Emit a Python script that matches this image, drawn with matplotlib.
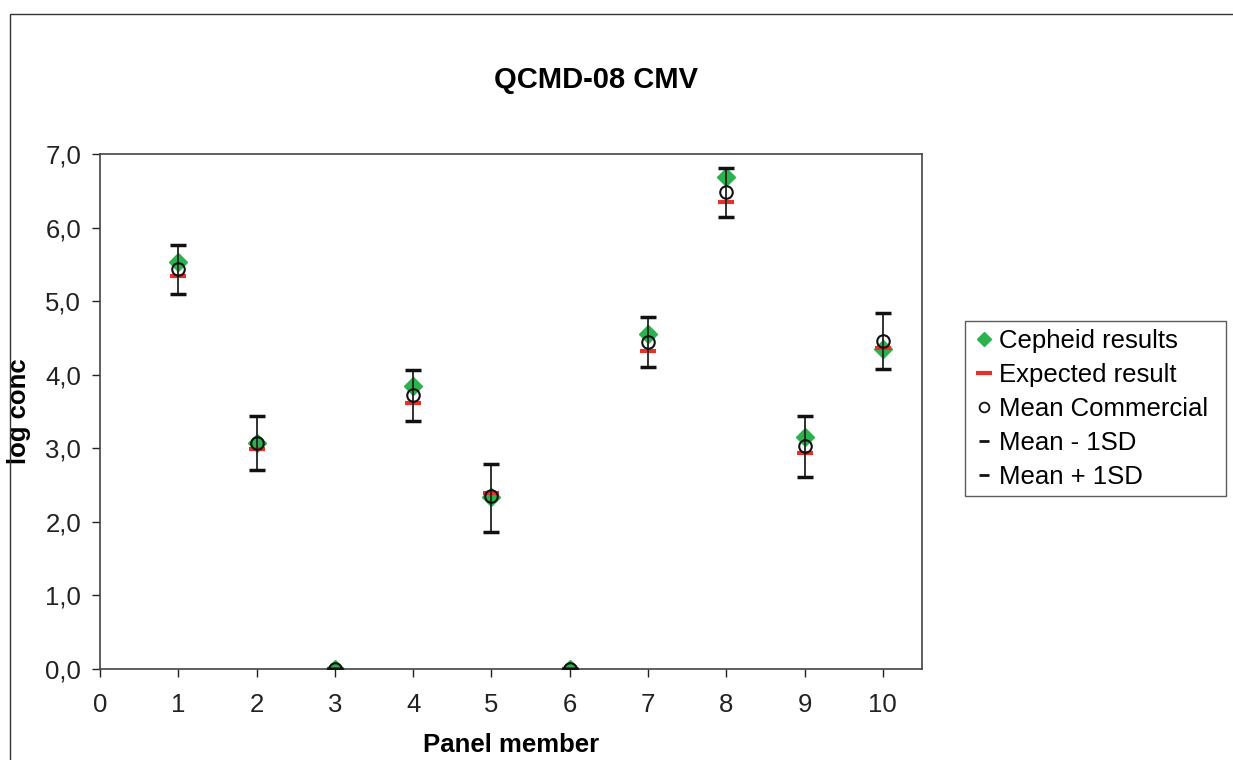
import matplotlib
matplotlib.use("Agg")
import matplotlib.pyplot as plt
from matplotlib.patches import Rectangle
from matplotlib.lines import Line2D

plt.rcParams['font.family'] = ['Liberation Sans', 'DejaVu Sans']

panel = [1, 2, 3, 4, 5, 6, 7, 8, 9, 10]
cepheid = [5.53, 3.07, 0.0, 3.85, 2.34, 0.0, 4.56, 6.69, 3.15, 4.35]
expected = [5.34, 2.99, 0.0, 3.61, 2.39, 0.0, 4.32, 6.35, 2.94, 4.36]
mean_comm = [5.44, 3.07, 0.0, 3.72, 2.35, 0.0, 4.44, 6.48, 3.03, 4.46]
mean_minus = [5.10, 2.70, 0.0, 3.37, 1.86, 0.0, 4.10, 6.15, 2.61, 4.08]
mean_plus = [5.76, 3.44, 0.0, 4.06, 2.79, 0.0, 4.78, 6.81, 3.44, 4.84]

xticks = [0, 1, 2, 3, 4, 5, 6, 7, 8, 9, 10]
yticks = [0, 1, 2, 3, 4, 5, 6, 7]
ytick_labels = ["0,0", "1,0", "2,0", "3,0", "4,0", "5,0", "6,0", "7,0"]

GREEN = "#2bb24c"
RED = "#e8302a"

W, H = 1233, 760
fig = plt.figure(figsize=(W / 100, H / 100), dpi=100)
fig.patches.append(Rectangle((10 / W, -0.1), 1.2, (1 - 14 / H) + 0.1,
                             transform=fig.transFigure, fill=False,
                             edgecolor="#333333", linewidth=1.0))

ax = fig.add_axes([100 / W, 1 - 669 / H, (922 - 100) / W, (669 - 154) / H])

ax.vlines(panel, mean_minus, mean_plus, color="#222222", linewidth=1.3, zorder=3)
ax.plot(panel, cepheid, linestyle="none", marker="D", markersize=9,
        color=GREEN, markeredgecolor=GREEN, zorder=2, label="Cepheid results")
ax.plot(panel, expected, linestyle="none", marker="_", markersize=12,
        markeredgewidth=3, color=RED, zorder=2.5, label="Expected result")
ax.plot(panel, mean_comm, linestyle="none", marker="o", markersize=9,
        markerfacecolor="none", markeredgecolor="#111111", markeredgewidth=1.5,
        zorder=4, label="Mean Commercial")
ax.plot(panel, mean_minus, linestyle="none", marker="_", markersize=11,
        markeredgewidth=2.5, color="#111111", zorder=4, label="Mean - 1SD")
ax.plot(panel, mean_plus, linestyle="none", marker="_", markersize=11,
        markeredgewidth=2.5, color="#111111", zorder=4, label="Mean + 1SD")

ax.set_xlim(0, 10.5)
ax.set_ylim(0, 7)
ax.set_xticks(xticks)
ax.set_xticklabels([str(t) for t in xticks])
ax.set_yticks(yticks)
ax.set_yticklabels(ytick_labels)
ax.tick_params(axis="both", direction="out", length=5.5, width=1, labelsize=18.5,
               colors="#222222")
ax.tick_params(axis="y", pad=8)
ax.tick_params(axis="x", pad=12)
for s in ax.spines.values():
    s.set_color("#444444")
    s.set_linewidth(1.2)

ax.set_xlabel("Panel member", fontsize=18.5, fontweight="bold")
ax.set_ylabel("log conc", fontsize=18.5, fontweight="bold")
ax.xaxis.set_label_coords(0.5, -(745 - 669) / 515.0)
ax.xaxis.label.set_va("center")
ax.yaxis.set_label_coords(-(100 - 19) / 822.0, 0.5)
ax.yaxis.label.set_va("center")

fig.text(596 / W, 1 - 80 / H, "QCMD-08 CMV", fontsize=21, fontweight="bold",
         ha="center", va="center")

handles = [
    Line2D([], [], linestyle="none", marker="D", markersize=7, color=GREEN),
    Line2D([], [], linestyle="none", marker="_", markersize=11, markeredgewidth=3, color=RED),
    Line2D([], [], linestyle="none", marker="o", markersize=7, markerfacecolor="none",
           markeredgecolor="#111111", markeredgewidth=1.3),
    Line2D([], [], linestyle="none", marker="_", markersize=7, markeredgewidth=2, color="#111111"),
    Line2D([], [], linestyle="none", marker="_", markersize=7, markeredgewidth=2, color="#111111"),
]
labels = ["Cepheid results", "Expected result", "Mean Commercial", "Mean - 1SD", "Mean + 1SD"]
leg = fig.legend(handles, labels, loc="upper left", mode="expand",
                 bbox_to_anchor=(965 / W, 1 - 491 / H, (1226 - 965) / W, (491 - 321) / H),
                 fontsize=18.5,
                 frameon=True, fancybox=False, handlelength=0.9,
                 handletextpad=0.12, labelspacing=0.39, borderpad=0.3,
                 borderaxespad=0)
leg.get_frame().set_edgecolor("#333333")
leg.get_frame().set_linewidth(1.0)

fig.savefig("out.png", dpi=100)
